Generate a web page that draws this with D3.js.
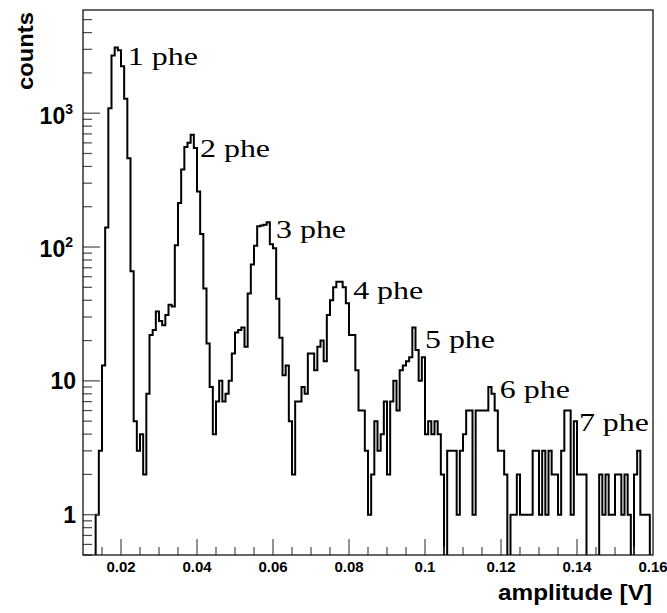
<!DOCTYPE html>
<html>
<head>
<meta charset="utf-8">
<script src="https://cdn.jsdelivr.net/npm/d3@7/dist/d3.min.js"></script>
<style>
  body { margin: 0; background: #fff; }
  svg { display: block; }
</style>
</head>
<body>
<svg id="chart" width="667" height="613"></svg>
<script>
// Pulse-height spectrum: 180 bins of equal width between 0.01 V and 0.16 V
const binLow = 0.01;
const binHigh = 0.16;
const counts = [
  0, 0, 0, 0, 1, 3, 13, 140, 1090, 2700,
  3100, 2950, 2240, 1280, 460, 66, 5, 3, 4, 2,
  8, 22, 24, 33, 28, 26, 31, 37, 36, 103,
  213, 380, 560, 600, 690, 550, 260, 125, 49, 19,
  9, 4, 7, 10, 7, 8, 10, 16, 23, 24,
  25, 18, 45, 74, 102, 143, 145, 147, 153, 105,
  98, 41, 21, 11, 13, 5, 2, 7, 7, 9,
  8, 16, 16, 12, 18, 20, 14, 31, 40, 50,
  55, 55, 50, 38, 22, 22, 12, 6, 6, 3,
  1, 2, 5, 3, 4, 7, 2, 7, 10, 6,
  12, 13, 14, 15, 25, 17, 10, 15, 4, 5,
  4, 5, 4, 2, 0, 3, 3, 3, 1, 3,
  4, 6, 6, 1, 6, 6, 6, 6, 9, 8,
  6, 3, 3, 2, 0, 1, 1, 2, 1, 1,
  1, 1, 3, 3, 1, 3, 1, 3, 2, 2,
  1, 3, 6, 6, 1, 5, 2, 2, 2, 0,
  0, 0, 0, 2, 1, 2, 1, 1, 2, 2,
  1, 2, 1, 0, 2, 3, 1, 1, 1, 0
];

// Axis ticks
const xTickValues = [0.02, 0.04, 0.06, 0.08, 0.10, 0.12, 0.14, 0.16];
const xTickLabels = ["0.02", "0.04", "0.06", "0.08", "0.1", "0.12", "0.14", "0.16"];
const yTickValues = [1, 10, 100, 1000];
const yTickBase = ["1", "10", "10", "10"];
const yTickExp = ["", "", "2", "3"];

// Photo-electron peak annotations, anchored in data coordinates
const peakNames = ["1 phe", "2 phe", "3 phe", "4 phe", "5 phe", "6 phe", "7 phe"];
const peakLabelX = [0.0218, 0.0408, 0.0608, 0.0811, 0.1000, 0.1197, 0.1405];
const peakLabelY = [2300, 470, 117, 41, 17.5, 7.4, 4.2];

const svg = d3.select("#chart");
const frame = { left: 83, right: 653, top: 10, bottom: 555 };

const x = d3.scaleLinear().domain([binLow, binHigh]).range([frame.left, frame.right]);
const y = d3.scaleLog().domain([0.5, 5900]).range([frame.bottom, frame.top]);

const sansBold = "'Liberation Sans', Arial, Helvetica, sans-serif";
const serif = "'Liberation Serif', 'Times New Roman', Times, serif";

// Clip region for the histogram
svg.append("defs").append("clipPath").attr("id", "plotClip")
  .append("rect")
  .attr("x", frame.left).attr("y", frame.top)
  .attr("width", frame.right - frame.left).attr("height", frame.bottom - frame.top);

// Histogram outline
const nBins = counts.length;
const binWidth = (binHigh - binLow) / nBins;
const yOf = v => v > 0 ? y(v) : frame.bottom + 2;
const pts = [[x(binLow), frame.bottom + 2]];
counts.forEach((v, i) => {
  const lo = binLow + i * binWidth, hi = lo + binWidth;
  pts.push([x(lo), yOf(v)]);
  pts.push([x(hi), yOf(v)]);
});
pts.push([x(binHigh), frame.bottom + 2]);

svg.append("path")
  .attr("clip-path", "url(#plotClip)")
  .attr("d", d3.line()(pts))
  .attr("fill", "none")
  .attr("stroke", "#000")
  .attr("stroke-width", 2)
  .attr("stroke-linejoin", "miter");

// X axis ticks (inward), major every 0.02, minor every 0.005
const tickColor = "#4a4a4a";
const xMinor = d3.range(0, 31).map(k => 0.01 + k * 0.005).filter(v => v > binLow + 1e-9 && v < binHigh - 1e-9);
const gx = svg.append("g");
xMinor.forEach(v => {
  const isMajor = xTickValues.some(t => Math.abs(t - v) < 1e-9);
  gx.append("line")
    .attr("x1", x(v)).attr("x2", x(v))
    .attr("y1", frame.bottom).attr("y2", frame.bottom - (isMajor ? 16 : 8))
    .attr("stroke", tickColor).attr("stroke-width", 1.2);
});
xTickValues.forEach((v, i) => {
  gx.append("text")
    .attr("x", x(v)).attr("y", 572)
    .attr("text-anchor", "middle")
    .attr("font-family", sansBold).attr("font-weight", "bold")
    .attr("font-size", 15)
    .text(xTickLabels[i]);
});

// Y axis ticks (inward), log decades with minor ticks
const gy = svg.append("g");
const yMinor = [];
[0.1, 1, 10, 100, 1000].forEach(d => {
  for (let m = 1; m <= 9; m++) {
    const v = d * m;
    if (v >= 0.5 && v <= 5900) yMinor.push(v);
  }
});
yMinor.forEach(v => {
  const isMajor = yTickValues.some(t => Math.abs(t - v) < 1e-9);
  gy.append("line")
    .attr("x1", frame.left).attr("x2", frame.left + (isMajor ? 17 : 9))
    .attr("y1", y(v)).attr("y2", y(v))
    .attr("stroke", tickColor).attr("stroke-width", 1.2);
});
yTickValues.forEach((v, i) => {
  const t = gy.append("text")
    .attr("x", yTickExp[i] ? 73 : 76)
    .attr("y", y(v))
    .attr("dy", yTickExp[i] ? "0.45em" : "0.36em")
    .attr("text-anchor", "end")
    .attr("font-family", sansBold).attr("font-weight", "bold")
    .attr("font-size", 23);
  t.append("tspan").text(yTickBase[i]);
  if (yTickExp[i]) {
    t.append("tspan").attr("font-size", 14).attr("dy", -10).text(yTickExp[i]);
  }
});

// Frame
svg.append("rect")
  .attr("x", frame.left).attr("y", frame.top)
  .attr("width", frame.right - frame.left).attr("height", frame.bottom - frame.top)
  .attr("fill", "none").attr("stroke", "#000").attr("stroke-width", 1.2);

// Axis titles
svg.append("text")
  .attr("x", 652).attr("y", 600)
  .attr("text-anchor", "end")
  .attr("font-family", sansBold).attr("font-weight", "bold")
  .attr("font-size", 22)
  .attr("textLength", 154).attr("lengthAdjust", "spacingAndGlyphs")
  .text("amplitude [V]");

svg.append("text")
  .attr("transform", "translate(33,12) rotate(-90)")
  .attr("text-anchor", "end")
  .attr("font-family", sansBold).attr("font-weight", "bold")
  .attr("font-size", 22)
  .attr("textLength", 78).attr("lengthAdjust", "spacingAndGlyphs")
  .text("counts");

// Peak annotations
peakNames.forEach((name, i) => {
  svg.append("text")
    .attr("x", x(peakLabelX[i])).attr("y", y(peakLabelY[i]))
    .attr("font-family", serif)
    .attr("font-size", 25)
    .attr("textLength", 70).attr("lengthAdjust", "spacingAndGlyphs")
    .text(name);
});
</script>
</body>
</html>
